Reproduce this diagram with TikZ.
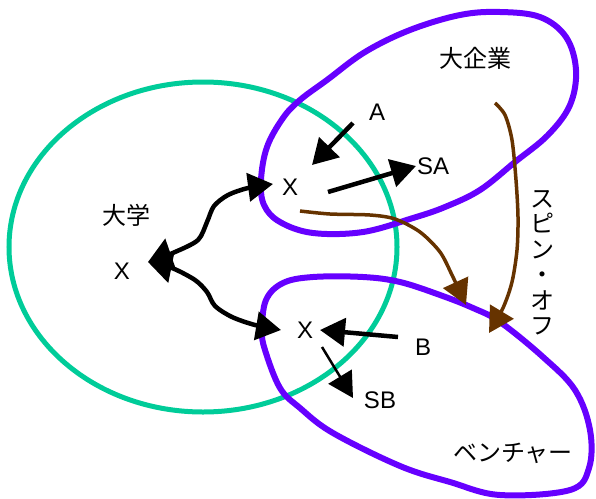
\documentclass[tikz,border=0pt]{standalone}
\usepackage{fontspec}
\setmainfont{Liberation Sans}
\newfontfamily\jpfont{Noto Sans CJK JP}
\usetikzlibrary{arrows.meta}
\definecolor{cgreen}{RGB}{0,204,153}
\definecolor{cpurple}{RGB}{102,0,255}
\definecolor{cbrown}{RGB}{102,51,0}
\tikzset{
  lbl/.style={inner sep=0pt, font=\fontsize{24pt}{26pt}\selectfont},
  jlbl/.style={inner sep=0pt, font=\jpfont\fontsize{24pt}{25.5pt}\selectfont},
  greenring/.style={draw=cgreen, line width=5pt},
  purplering/.style={draw=cpurple, line width=6pt},
  blackarrow/.style={draw=black, line width=4.5pt, -{Triangle[length=25pt,width=28pt]}},
  thinarrow/.style={draw=black, line width=2.5pt, -{Triangle[length=25pt,width=27pt]}},
  brownarrow/.style={draw=cbrown, line width=3.5pt, -{Triangle[length=25pt,width=27pt]}},
}
\begin{document}
\begin{tikzpicture}[x=1pt,y=-1pt]
\useasboundingbox (0,0) rectangle (596,498);
% green ellipse
\draw[greenring] (203,247) ellipse [x radius=194, y radius=165];
% purple shapes
\draw[purplering] plot[smooth cycle, tension=0.6] coordinates {
  (261,180) (267,147) (283,118) (300,100) (327,80) (365,52) (410,30) (460,15) (500,12)
  (540,17) (566,37) (576,70) (570,105) (548,135) (515,162) (480,190) (445,207)
  (413,218) (363,232) (313,233) (280,222) (264,205)};
\draw[purplering] plot[smooth cycle, tension=0.6] coordinates {
  (262,330) (266,300) (283,283) (313,277) (363,277) (400,282) (440,295) (473,308)
  (500,322) (543,357) (575,390) (590,430) (589,468) (570,490) (500,495) (450,482)
  (400,466) (333,433) (300,408) (280,388) (265,350)};
% labels
\node[jlbl] (univ) at (126,215) {大学};
\node[lbl] (xl) at (122,271) {X};
\node[lbl] (xt) at (290,187) {X};
\node[lbl] (a) at (377,112) {A};
\node[lbl] (sa) at (433,166) {SA};
\node[lbl] (xb) at (305,330) {X};
\node[lbl] (b) at (423,347) {B};
\node[lbl] (sb) at (380,400) {SB};
\node[jlbl] (big) at (475,58) {大企業};
\node[jlbl] (venture) at (513,453) {ベンチャー};
\node[jlbl, align=center] (spin) at (542,263) {ス\\ピ\\ン\\・\\オ\\フ};
% tip coordinates
\coordinate (tl) at (148,262);
\coordinate (tt) at (273,184);
\coordinate (tb) at (281,330);
\coordinate (ta) at (312,165);
\coordinate (sa0) at (328,192);
\coordinate (tsa) at (416,166);
\coordinate (tbx) at (320,330);
\coordinate (sb0) at (322,347);
\coordinate (tsb) at (353,398);
\coordinate (br1) at (300,211);
\coordinate (tbr1) at (466,305);
\coordinate (br2) at (495,103);
\coordinate (tbr2) at (489,333);
% brown arrows
\draw[brownarrow] plot[smooth] coordinates {(br1) (330,214) (370,215) (395,219) (420,232) (440,252) (452,275) (tbr1)};
\draw[brownarrow] plot[smooth] coordinates {(br2) (505,115) (512,140) (516,180) (518,217) (517,250) (512,282) (503,308) (tbr2)};
% black arrows
\draw[blackarrow, {Triangle[length=24pt,width=32pt]}-{Triangle[length=25pt,width=28pt]}] plot[smooth] coordinates {(tl) (175,252) (198,240) (207,222) (214,206) (228,195) (248,188) (tt)};
\draw[blackarrow, {Triangle[length=24pt,width=32pt]}-{Triangle[length=25pt,width=28pt]}] plot[smooth] coordinates {(tl) (172,268) (195,280) (207,292) (215,306) (232,317) (255,325) (tb)};
\draw[blackarrow] (353,123) -- (ta);
\draw[blackarrow] (sa0) -- (tsa);
\draw[blackarrow] (398,337) -- (tbx);
\draw[thinarrow] (sb0) -- (tsb);
\end{tikzpicture}
\end{document}
